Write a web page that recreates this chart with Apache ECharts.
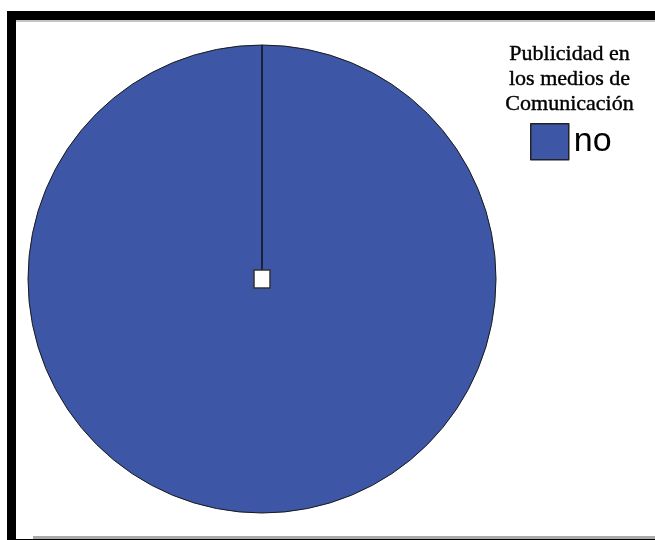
<!DOCTYPE html>
<html><head><meta charset="utf-8">
<script src="https://cdn.jsdelivr.net/npm/echarts@6/dist/echarts.min.js"></script>
<style>html,body{margin:0;padding:0;background:#fff}#c{width:655px;height:540px}</style>
</head><body><div id="c"></div>
<script>
const categories = ["no"];
const values = [100];
const legendTitle = "Publicidad en\nlos medios de\nComunicación";
const colors = ["#3D56A6"];

const cx = 262, cy = 279, R = 234;
const chart = echarts.init(document.getElementById('c'), null, {renderer: 'canvas'});
chart.setOption({
  animation: false,
  backgroundColor: '#ffffff',
  color: colors,
  title: {
    text: legendTitle, left: 569.5, top: 42, textAlign: 'center', padding: 0,
    textStyle: {fontFamily: 'Liberation Serif', fontSize: 22, fontWeight: 'normal', color: '#000', lineHeight: 25,
      textBorderColor: '#000', textBorderWidth: 0.4}
  },
  legend: {
    data: categories, orient: 'vertical', left: 530, top: 123, padding: 0,
    itemWidth: 38, itemHeight: 36, itemGap: 10, icon: 'rect',
    itemStyle: {borderColor: '#222', borderWidth: 1.5},
    textStyle: {fontFamily: 'Liberation Sans', fontSize: 34, color: '#000', padding: [4, 0, 0, 0]},
    selectedMode: false
  },
  series: [{
    type: 'pie', center: [cx, cy], radius: [0, R], startAngle: 90, clockwise: true,
    label: {show: false}, labelLine: {show: false}, silent: true,
    itemStyle: {borderColor: '#1a1a1a', borderWidth: 1},
    data: categories.map((c, i) => ({name: c, value: values[i]}))
  }],
  graphic: [
    {type: 'line', shape: {x1: cx, y1: cy, x2: cx, y2: cy - R}, style: {stroke: '#111', lineWidth: 1.5}, z: 10},
    {type: 'rect', shape: {x: cx - 8, y: cy - 9, width: 16, height: 18}, style: {fill: '#fff', stroke: '#333', lineWidth: 1.5}, z: 11},
    {type: 'rect', shape: {x: 7, y: 11, width: 648, height: 9}, style: {fill: '#000'}, z: 20},
    {type: 'rect', shape: {x: 16, y: 20, width: 639, height: 2}, style: {fill: '#c4c4c4'}, z: 20},
    {type: 'rect', shape: {x: 7, y: 11, width: 9, height: 529}, style: {fill: '#000'}, z: 20},
    {type: 'rect', shape: {x: 33, y: 536, width: 622, height: 3}, style: {fill: '#aaaaaa'}, z: 20},
    {type: 'rect', shape: {x: 16, y: 539, width: 639, height: 1}, style: {fill: '#000'}, z: 20}
  ]
});
</script></body></html>
